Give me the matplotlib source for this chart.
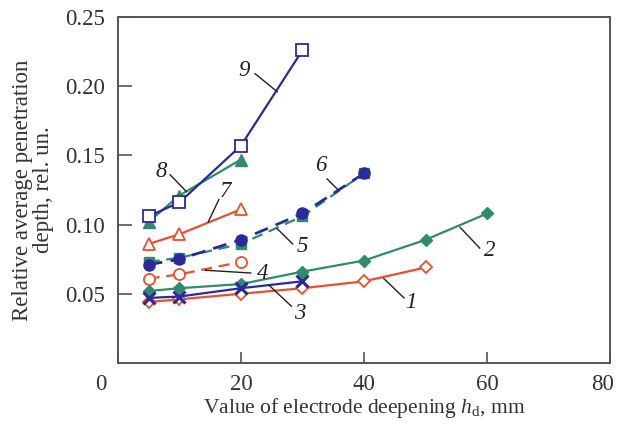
import matplotlib
matplotlib.use("Agg")
import matplotlib.pyplot as plt
import matplotlib.transforms as mtransforms

plt.rcParams['font.family'] = ['Liberation Serif', 'DejaVu Serif']
plt.rcParams['mathtext.fontset'] = 'custom'
plt.rcParams['mathtext.rm'] = 'Liberation Serif'
plt.rcParams['mathtext.it'] = 'Liberation Serif:italic'

# ---- data ----
x7 = [5, 10, 20, 30, 40, 50, 60]
s1 = [0.044, 0.046, 0.050, 0.054, 0.059, 0.069]
s2 = [0.052, 0.054, 0.057, 0.066, 0.074, 0.089, 0.108]
s3 = [0.047, 0.048, 0.054, 0.059]
s4 = [0.061, 0.064, 0.073]
s5 = [0.073, 0.076, 0.086, 0.106, 0.137]
s6 = [0.071, 0.075, 0.089, 0.108, 0.137]
s7 = [0.086, 0.093, 0.111]
s8 = [0.102, 0.121, 0.147]
s9 = [0.106, 0.116, 0.157, 0.226]

x_ticks = [0, 20, 40, 60, 80]
y_ticks = [0.05, 0.10, 0.15, 0.20, 0.25]
y_ticklabels = ['0.05', '0.10', '0.15', '0.20', '0.25']

RED = '#e8502e'
GREEN = '#2f8a6e'
BLUE = '#2a2a9c'

fig = plt.figure(figsize=(6.17, 4.25), dpi=100)
ax = fig.add_axes([0.191, 0.146, 0.798, 0.814])

lw = 1.6
ms = 7
# series 1
ax.plot(x7[:len(s1)], s1, color=RED, lw=lw, marker='D', ms=6, mfc='white', mec=RED, mew=1.3)
# series 2
ax.plot(x7[:len(s2)], s2, color=GREEN, lw=lw, marker='D', ms=6, mfc=GREEN, mec=GREEN)
# series 3
ax.plot(x7[:len(s3)], s3, color=BLUE, lw=lw, marker='x', ms=8, mew=2.2, mec=BLUE)
# series 4
ax.plot(x7[:len(s4)], s4, color=RED, lw=lw, ls=(0, (5, 3)), marker='o', ms=8, mfc='white', mec=RED, mew=1.3)
# series 5
ax.plot(x7[:len(s5)], s5, color=GREEN, lw=lw, ls=(0, (5, 3)), marker='s', ms=ms, mfc=GREEN, mec=GREEN)
# series 6
ax.plot(x7[:len(s6)], s6, color=BLUE, lw=2.0, ls=(0, (5, 3)), marker='o', ms=ms + 1, mfc=BLUE, mec=BLUE)
# series 7
ax.plot(x7[:len(s7)], s7, color=RED, lw=lw, marker='^', ms=8, mfc='white', mec=RED, mew=1.3)
# series 8
ax.plot(x7[:len(s8)], s8, color=GREEN, lw=lw, marker='^', ms=8, mfc=GREEN, mec=GREEN)
# series 9
ax.plot(x7[:len(s9)], s9, color=BLUE, lw=lw, marker='s', ms=8, mfc='white', mec=BLUE, mew=1.3)

# curve labels with leader lines
labels = [
    ('9', (20.5, 0.211), (22.3, 0.209), (25.9, 0.196)),
    ('8', (7.0, 0.138), (8.5, 0.136), (11.1, 0.124)),
    ('7', (17.4, 0.124), (16.4, 0.118), (14.7, 0.102)),
    ('6', (32.9, 0.143), (34.0, 0.133), (35.8, 0.125)),
    ('5', (30.0, 0.084), (28.4, 0.086), (25.9, 0.097)),
    ('4', (23.5, 0.065), (21.6, 0.065), (14.2, 0.067)),
    ('3', (29.5, 0.036), (28.2, 0.041), (24.6, 0.056)),
    ('2', (60.5, 0.081), (58.8, 0.083), (55.6, 0.098)),
    ('1', (47.6, 0.044), (46.5, 0.047), (43.2, 0.061)),
]
for txt, tpos, p0, p1 in labels:
    ax.plot([p0[0], p1[0]], [p0[1], p1[1]], color='#222222', lw=1.0)
    ax.text(tpos[0], tpos[1], txt, fontsize=16.5, style='italic', ha='center', va='center', color='#222222')

FS = 16.5
ax.set_xlim(0, 80)
ax.set_ylim(0, 0.25)
ax.set_xticks(x_ticks)
ax.set_xticklabels([str(v) for v in x_ticks])
ax.set_yticks(y_ticks)
ax.set_yticklabels(y_ticklabels)
ax.tick_params(direction='in', length=8, width=1.2, color='#555555', labelsize=FS,
               labelcolor='#333333', pad=8)
ax.tick_params(axis='y', length=10, pad=9)
for sp in ax.spines.values():
    sp.set_color('#555555')
    sp.set_linewidth(1.4)

# shift the "0" label left and the "80" label slightly left, as in the reference
xl = ax.get_xticklabels()
xl[0].set_transform(xl[0].get_transform() + mtransforms.ScaledTranslation(-17 / 100, 0, fig.dpi_scale_trans))
xl[-1].set_transform(xl[-1].get_transform() + mtransforms.ScaledTranslation(-8 / 100, 0, fig.dpi_scale_trans))

ax.set_xlabel(r'Value of electrode deepening $h_{\mathrm{d}}$, mm', fontsize=15.5, color='#333333', labelpad=1)
ax.set_ylabel('Relative average penetration\ndepth, rel. un.', fontsize=FS, color='#333333', labelpad=8,
              linespacing=1.05)

fig.savefig('out.png', dpi=100, facecolor='white')
